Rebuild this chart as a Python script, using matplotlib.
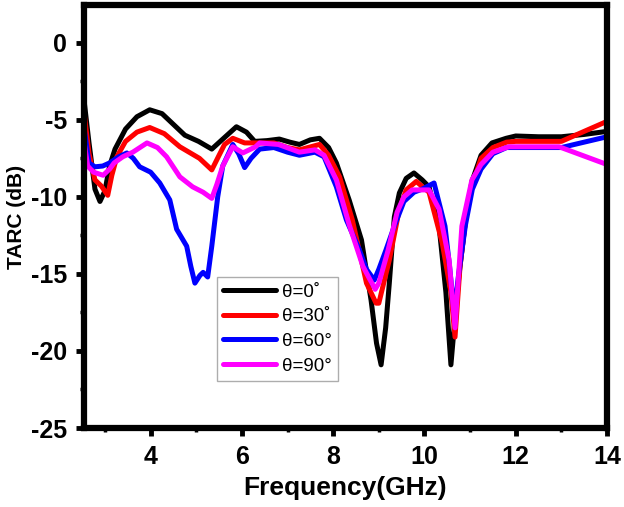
import matplotlib
matplotlib.use("Agg")
import matplotlib.pyplot as plt
from matplotlib.ticker import MultipleLocator

# ---- data ----
f0 = [2.54, 2.65, 2.78, 2.89, 3.0, 3.1, 3.22, 3.45, 3.7, 3.98, 4.25, 4.5, 4.75, 5.05, 5.34,
      5.6, 5.88, 6.1, 6.28, 6.55, 6.82, 7.05, 7.26, 7.5, 7.7, 7.9, 8.07, 8.35, 8.62, 8.83,
      8.95, 9.05, 9.15, 9.23, 9.34, 9.45, 9.6, 9.77, 9.95, 10.1, 10.32, 10.47, 10.58, 10.68,
      10.76, 10.9, 11.04, 11.24, 11.48, 11.79, 12.0, 12.5, 13.0, 13.5, 14.0]
v0 = [-3.7, -6.5, -9.5, -10.3, -9.6, -8.0, -6.9, -5.6, -4.8, -4.35, -4.6, -5.3, -6.0, -6.4, -6.9,
      -6.2, -5.45, -5.8, -6.4, -6.35, -6.25, -6.45, -6.6, -6.3, -6.2, -6.8, -7.8, -10.2, -12.8, -16.7,
      -19.5, -20.9, -18.5, -15.6, -11.3, -9.75, -8.8, -8.45, -8.9, -9.35, -11.9, -16.2, -20.9, -17.5,
      -15.0, -11.5, -9.0, -7.3, -6.5, -6.2, -6.05, -6.1, -6.1, -5.95, -5.75]

f30 = [2.54, 2.65, 2.78, 2.92, 3.06, 3.15, 3.26, 3.45, 3.7, 3.98, 4.3, 4.64, 5.07, 5.34, 5.5,
       5.62, 5.8, 6.06, 6.4, 6.7, 7.0, 7.26, 7.7, 7.9, 8.14, 8.42, 8.73, 8.94, 9.0, 9.23,
       9.45, 9.6, 9.82, 10.1, 10.39, 10.58, 10.67, 10.78, 10.9, 11.05, 11.24, 11.5, 11.8, 12.0,
       13.0, 14.0]
v30 = [-4.5, -7.2, -8.9, -9.3, -9.9, -8.6, -7.4, -6.4, -5.8, -5.5, -5.9, -6.75, -7.5, -8.25, -7.3,
       -6.6, -6.2, -6.5, -6.5, -6.5, -6.8, -6.95, -6.6, -7.3, -8.7, -11.5, -15.6, -16.9, -16.9, -14.1,
       -10.8, -9.55, -9.0, -9.7, -13.0, -16.2, -19.1, -14.5, -11.5, -9.2, -7.5, -6.8, -6.45, -6.4,
       -6.4, -5.1]

f60 = [2.54, 2.65, 2.78, 2.95, 3.1, 3.3, 3.48, 3.62, 3.76, 4.0, 4.2, 4.42, 4.57, 4.79, 4.88,
       4.97, 5.08, 5.15, 5.25, 5.34, 5.47, 5.58, 5.8, 5.93, 6.06, 6.2, 6.39, 6.7, 7.0, 7.26,
       7.6, 7.8, 8.07, 8.29, 8.57, 8.73, 8.9, 9.0, 9.15, 9.34, 9.55, 9.77, 9.95, 10.21, 10.33,
       10.45, 10.55, 10.65, 10.75, 10.9, 11.05, 11.24, 11.5, 11.8, 12.0, 13.0, 14.0]
v60 = [-5.5, -7.8, -8.05, -8.0, -7.8, -7.4, -7.15, -7.5, -8.05, -8.4, -9.1, -10.2, -12.1, -13.2, -14.5,
       -15.6, -15.1, -14.9, -15.2, -13.2, -10.0, -8.0, -6.6, -7.2, -8.1, -7.5, -6.9, -6.8, -7.1, -7.3,
       -7.1, -7.4, -9.35, -11.5, -13.4, -14.7, -15.4, -14.7, -13.5, -11.9, -10.3, -9.7, -9.5, -9.1, -10.5,
       -11.9, -14.5, -17.5, -15.0, -11.8, -9.5, -8.2, -7.2, -6.8, -6.8, -6.8, -6.1]

f90 = [2.54, 2.62, 2.75, 2.96, 3.1, 3.2, 3.39, 3.61, 3.92, 4.15, 4.35, 4.64, 4.92, 5.15, 5.34,
       5.45, 5.58, 5.8, 6.02, 6.3, 6.39, 6.8, 7.26, 7.6, 7.8, 8.07, 8.35, 8.65, 8.92, 9.0,
       9.2, 9.4, 9.55, 9.73, 10.1, 10.32, 10.54, 10.67, 10.82, 11.04, 11.24, 11.5, 11.85, 12.0,
       12.95, 14.0]
v90 = [-6.4, -8.0, -8.4, -8.6, -8.2, -7.8, -7.4, -7.1, -6.5, -6.8, -7.4, -8.7, -9.35, -9.7, -10.1,
       -9.2, -8.0, -6.75, -7.15, -6.75, -6.5, -6.6, -7.1, -6.95, -7.3, -8.9, -11.8, -14.5, -16.0, -15.6,
       -13.5, -11.0, -10.0, -9.55, -9.55, -10.8, -14.1, -18.5, -11.9, -8.9, -7.9, -7.1, -6.75, -6.75,
       -6.75, -7.9]

labels = ["θ=0˚", "θ=30˚", "θ=60°", "θ=90°"]
colors = ["#000000", "#ff0000", "#0000ff", "#ff00ff"]
xticks = [4, 6, 8, 10, 12, 14]
yticks = [0, -5, -10, -15, -20, -25]

plt.rcParams['font.family'] = ['Liberation Sans', 'DejaVu Sans']
plt.rcParams['axes.unicode_minus'] = False

fig = plt.figure(figsize=(6.24, 5.07), dpi=100)
ax = fig.add_axes([84/624, 1 - 428/507, (607-84)/624, (428-5)/507])

series = [(f0, v0), (f30, v30), (f60, v60), (f90, v90)]
for (f, v), lab, c in zip(series, labels, colors):
    ax.plot(f, v, color=c, lw=3.6, label=lab, solid_joinstyle='round', solid_capstyle='round')

ax.set_xlim(2.54, 14.0)
ax.set_ylim(-25, 2.45)
ax.set_xticks(xticks)
ax.set_yticks(yticks)
ax.xaxis.set_minor_locator(MultipleLocator(1))
ax.yaxis.set_minor_locator(MultipleLocator(2.5))

for s in ax.spines.values():
    s.set_linewidth(4.5)
ax.tick_params(which='major', direction='out', length=6, width=3.5, pad=6,
               labelsize=18, top=False, right=False)
ax.tick_params(which='minor', direction='out', length=3, width=2.5, top=False, right=False)
for lab in ax.get_xticklabels() + ax.get_yticklabels():
    lab.set_fontweight('bold')

ax.set_xlabel("Frequency(GHz)", fontsize=19, fontweight='bold', labelpad=5)
ax.set_ylabel("TARC (dB)", fontsize=15, fontweight='bold', labelpad=4)

leg = ax.legend(loc='upper left', bbox_to_anchor=(0.254, 0.357), borderaxespad=0,
                fancybox=False, frameon=True, fontsize=13.5, handlelength=2.8,
                labelspacing=0.4, handletextpad=0.3, borderpad=0.35)
leg.get_frame().set_edgecolor('#999999')
leg.get_frame().set_linewidth(1.0)

fig.savefig("out.png", dpi=100)
